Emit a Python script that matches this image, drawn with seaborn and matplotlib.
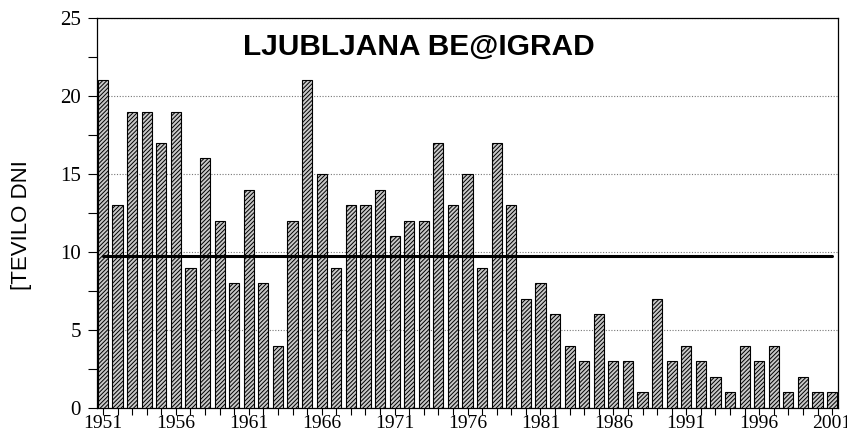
import matplotlib
matplotlib.use("Agg")
import matplotlib.pyplot as plt
import seaborn as sns
import pandas as pd
from matplotlib.ticker import MultipleLocator

years = list(range(1951, 2002))
days = [21, 13, 19, 19, 17, 19, 9, 16, 12, 8,
        14, 8, 4, 12, 21, 15, 9, 13, 13, 14,
        11, 12, 12, 17, 13, 15, 9, 17, 13, 7,
        8, 6, 4, 3, 6, 3, 3, 1, 7, 3,
        4, 3, 2, 1, 4, 3, 4, 1, 2, 1,
        1]
mean_value = 9.75
title = "LJUBLJANA BE@IGRAD"
ylabel = "[TEVILO DNI"

df = pd.DataFrame({"year": years, "days": days})

sns.set_style("white")
plt.rcParams["hatch.linewidth"] = 0.7
plt.rcParams["text.color"] = "black"
plt.rcParams["axes.labelcolor"] = "black"
plt.rcParams["xtick.color"] = "black"
plt.rcParams["ytick.color"] = "black"

fig = plt.figure(figsize=(8.47, 4.34), dpi=100)
ax = fig.add_axes([0.1145, 0.0599, 0.875, 0.8986])

sns.barplot(data=df, x="year", y="days", color="#c8c8c8", width=0.7,
            edgecolor="black", linewidth=0.8, ax=ax, zorder=3)
for p in ax.patches:
    p.set_hatch("////////")
    p.set_facecolor("#c8c8c8")
    p.set_edgecolor("black")

ax.plot([0, len(years) - 1], [mean_value, mean_value], color="black", lw=2.2, zorder=4)

ax.set_xlim(-0.41, len(years) - 1 + 0.41)
ax.set_ylim(0, 25)
ax.yaxis.set_major_locator(MultipleLocator(5))
ax.yaxis.set_minor_locator(MultipleLocator(2.5))
ax.grid(axis="y", which="major", color="#777777", linestyle=(0, (1, 1.5)), lw=0.8, zorder=0)
ax.set_axisbelow(True)

ax.set_xticks(range(len(years)))
ax.set_xticklabels([str(y) if (y - 1951) % 5 == 0 else "" for y in years])

for lab in ax.get_xticklabels():
    lab.set_fontfamily("Liberation Serif")
    lab.set_fontsize(14)
for lab in ax.get_yticklabels():
    lab.set_fontfamily("Liberation Serif")
    lab.set_fontsize(15)

ax.tick_params(axis="x", which="major", direction="out", length=5, width=0.8, bottom=True, pad=0)
ax.tick_params(axis="y", which="both", direction="out", length=6.5, width=0.8, left=True, pad=5)

for s in ax.spines.values():
    s.set_color("black")
    s.set_linewidth(0.9)
    s.set_visible(True)

ax.set_xlabel("")
ax.set_ylabel(ylabel, fontfamily="Liberation Sans", fontsize=16)
ax.yaxis.set_label_coords(-0.088, 0.47)

ax.text(0.434, 0.925, title, transform=ax.transAxes, ha="center", va="center",
        fontfamily="Liberation Sans", fontweight="bold", fontsize=21.5)

fig.savefig("out.png", dpi=100)
